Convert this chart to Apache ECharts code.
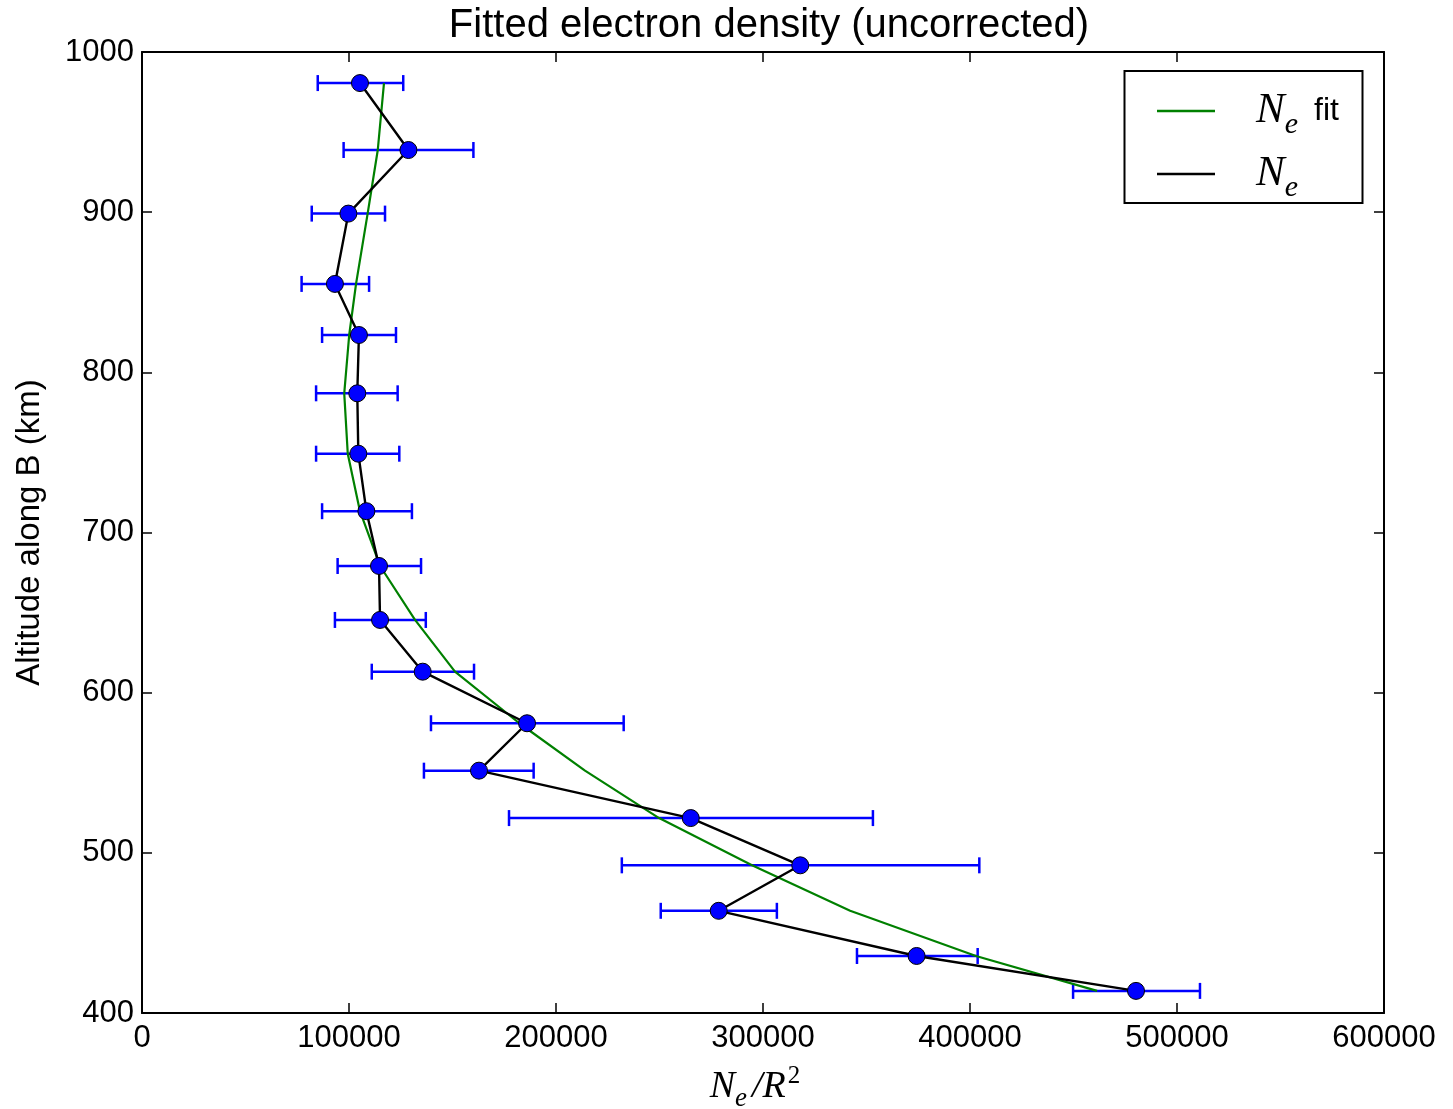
<!DOCTYPE html>
<html><head><meta charset="utf-8">
<script src="https://cdn.jsdelivr.net/npm/echarts/dist/echarts.min.js"></script>
<style>html,body{margin:0;padding:0;background:#fff}#c{width:1453px;height:1109px}</style>
</head><body><div id="c"></div>
<script>
// Altitude along B (km)
const altitude = [980.6, 938.8, 899.1, 855.2, 823.3, 786.9, 749.2, 713.3, 679.1, 645.4, 613.1, 580.9, 551.3, 521.7, 492.2, 463.8, 435.6, 413.8];
// Measured Ne / R^2
const density = [105300, 128700, 99700, 93200, 104800, 104000, 104500, 108400, 114500, 115000, 135600, 186000, 162800, 265100, 318000, 278600, 374200, 480200];
// Error bar extents
const errLow = [84900, 97400, 82000, 77100, 87000, 84100, 84100, 87000, 94500, 93200, 111000, 139600, 136200, 177300, 231800, 250600, 345400, 449800];
const errHigh = [126200, 160100, 117400, 109700, 122700, 123500, 124300, 130400, 134800, 137100, 160400, 232700, 189200, 353100, 404500, 306700, 403700, 511100];
// Fitted Ne
const fitDensity = [116900, 113900, 109000, 103400, 100100, 97700, 99400, 105300, 115000, 131900, 151200, 182300, 214000, 249800, 294700, 342100, 402900, 461400];

const chart = echarts.init(document.getElementById('c'), null, {renderer: 'canvas'});
const SANS = '"Liberation Sans", Arial, sans-serif';
const SERIF = '"Liberation Serif", "DejaVu Serif", serif';

const axisCommon = {
  axisLine: {show: true, onZero: false, lineStyle: {color: '#000', width: 2}},
  axisTick: {show: true, inside: true, length: 10, lineStyle: {color: '#000', width: 1.5}},
  splitLine: {show: false}
};
const plain = v => String(Math.round(v));

const option = {
  animation: false,
  backgroundColor: '#fff',
  title: {
    text: 'Fitted electron density (uncorrected)',
    left: 764, top: 1, textAlign: 'center',
    textStyle: {fontFamily: SANS, fontSize: 40, fontWeight: 'normal', color: '#000'}
  },
  grid: {left: 142, right: 69, top: 52, bottom: 96, containLabel: false, outerBoundsMode: 'none'},
  graphic: [{
    type: 'rect', z: 50,
    shape: {x: 1124.5, y: 71, width: 238, height: 132},
    style: {fill: '#fff', stroke: '#000', lineWidth: 2}
  }],
  legend: {
    z: 60,
    orient: 'vertical',
    left: 1152, top: 77,
    itemWidth: 58, itemHeight: 2.5, itemGap: 5,
    icon: 'rect',
    data: ['N_e fit', 'N_e'],
    formatter: function (name) {
      return name === 'N_e fit' ? '{n|N}{e|e}{f|fit}' : '{n|N}{e|e}';
    },
    textStyle: {
      rich: {
        n: {fontFamily: SERIF, fontStyle: 'italic', fontSize: 43, color: '#000', lineHeight: 54, padding: [0, 0, 0, 36]},
        e: {fontFamily: SERIF, fontStyle: 'italic', fontSize: 30, color: '#000', lineHeight: 26, padding: [28, 0, 0, 0]},
        f: {fontFamily: SANS, fontSize: 32, color: '#000', lineHeight: 54, padding: [0, 0, 0, 16]}
      }
    }
  },
  xAxis: [
    Object.assign({
      type: 'value', min: 0, max: 600000, interval: 100000, position: 'bottom',
      axisLabel: {fontFamily: SANS, fontSize: 31, color: '#000', margin: 10, formatter: plain},
      name: '{n|N}{e|e}{s|/R}{p|2}',
      nameLocation: 'middle', nameGap: 50,
      nameTextStyle: {
        rich: {
          n: {fontFamily: SERIF, fontStyle: 'italic', fontSize: 38, color: '#000', lineHeight: 48},
          e: {fontFamily: SERIF, fontStyle: 'italic', fontSize: 27, color: '#000', lineHeight: 22, padding: [24, 5, 0, 0]},
          s: {fontFamily: SERIF, fontStyle: 'italic', fontSize: 38, color: '#000', lineHeight: 48},
          p: {fontFamily: SERIF, fontSize: 25, color: '#000', lineHeight: 22, padding: [0, 16, 22, 2]}
        }
      }
    }, axisCommon),
    Object.assign({
      type: 'value', min: 0, max: 600000, interval: 100000, position: 'top',
      axisLabel: {show: false}
    }, axisCommon)
  ],
  yAxis: [
    Object.assign({
      type: 'value', min: 400, max: 1000, interval: 100, position: 'left',
      axisLabel: {fontFamily: SANS, fontSize: 31, color: '#000', margin: 8, formatter: plain},
      name: 'Altitude along B (km)',
      nameLocation: 'middle', nameGap: 96,
      nameTextStyle: {fontFamily: SANS, fontSize: 33, color: '#000'}
    }, axisCommon),
    Object.assign({
      type: 'value', min: 400, max: 1000, interval: 100, position: 'right',
      axisLabel: {show: false}
    }, axisCommon)
  ],
  series: [
    {
      name: 'errors',
      type: 'custom',
      z: 2,
      xAxisIndex: 0, yAxisIndex: 0,
      data: altitude.map((a, i) => [errLow[i], errHigh[i], a]),
      encode: {x: [0, 1], y: 2},
      renderItem: function (params, api) {
        const lo = api.coord([api.value(0), api.value(2)]);
        const hi = api.coord([api.value(1), api.value(2)]);
        const h = 8;
        const style = {stroke: '#0000ff', lineWidth: 2.5};
        return {
          type: 'group',
          children: [
            {type: 'line', shape: {x1: lo[0], y1: lo[1], x2: hi[0], y2: hi[1]}, style: style},
            {type: 'line', shape: {x1: lo[0], y1: lo[1] - h, x2: lo[0], y2: lo[1] + h}, style: style},
            {type: 'line', shape: {x1: hi[0], y1: hi[1] - h, x2: hi[0], y2: hi[1] + h}, style: style}
          ]
        };
      }
    },
    {
      name: 'N_e fit',
      type: 'line',
      z: 3,
      symbol: 'none',
      data: fitDensity.map((v, i) => [v, altitude[i]]),
      itemStyle: {color: '#008000'},
      lineStyle: {color: '#008000', width: 2.2}
    },
    {
      name: 'N_e',
      type: 'line',
      z: 4,
      symbol: 'none',
      data: density.map((v, i) => [v, altitude[i]]),
      itemStyle: {color: '#000'},
      lineStyle: {color: '#000', width: 2.4}
    },
    {
      name: 'points',
      type: 'scatter',
      z: 5,
      symbol: 'circle',
      symbolSize: 17,
      data: density.map((v, i) => [v, altitude[i]]),
      itemStyle: {color: '#0000ff', borderColor: '#000', borderWidth: 1, opacity: 1}
    }
  ]
};
chart.setOption(option);
</script>
</body></html>
